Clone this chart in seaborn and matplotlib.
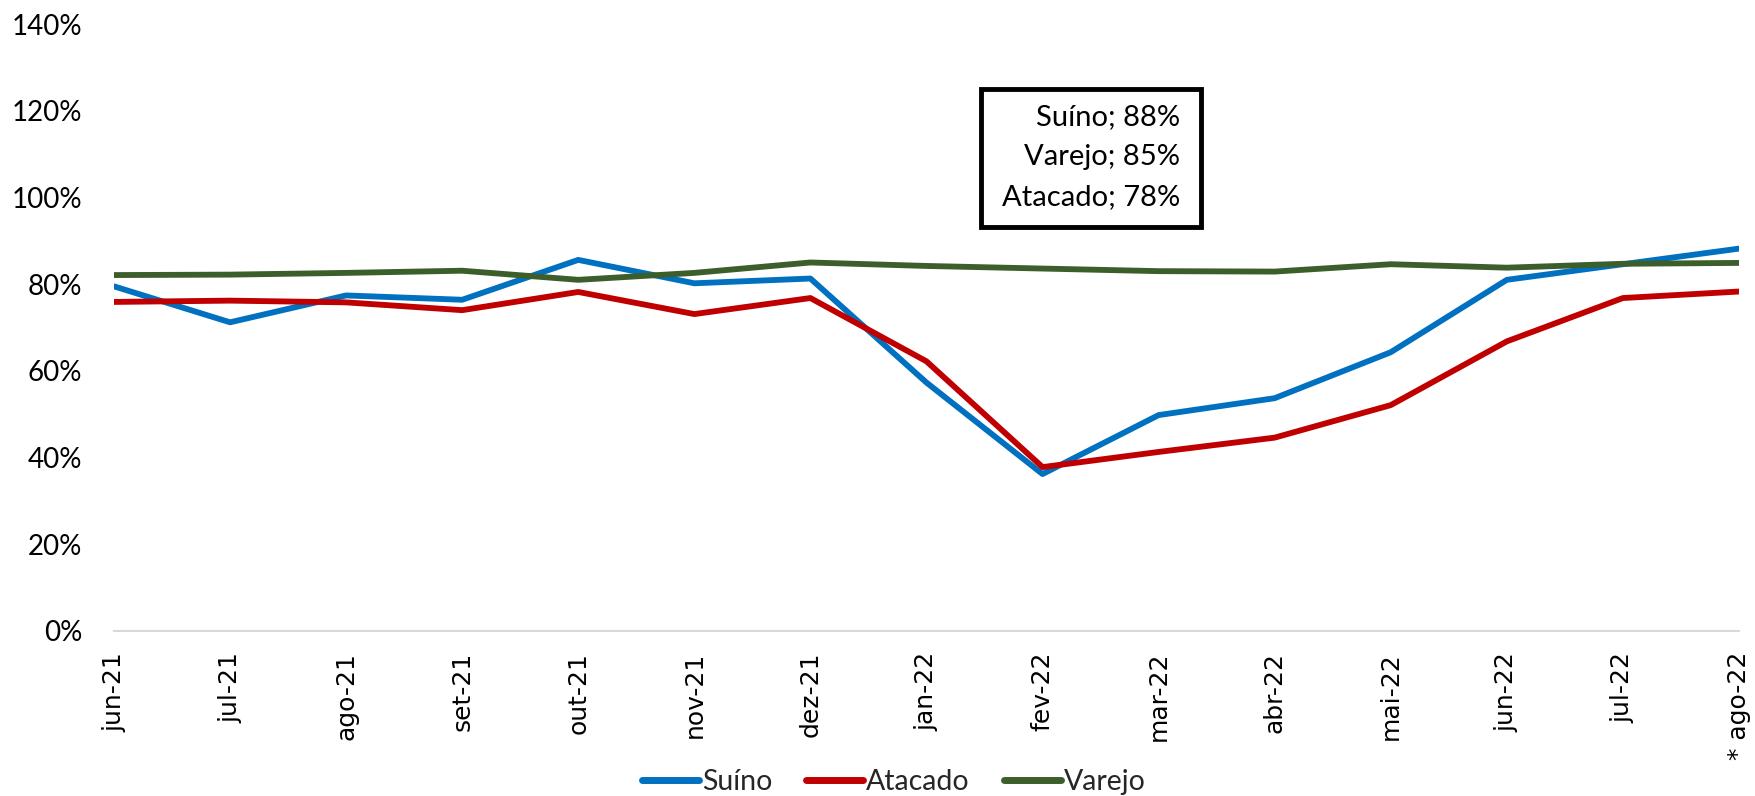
import numpy as np
import pandas as pd
import seaborn as sns
import matplotlib.pyplot as plt
from matplotlib.patches import Rectangle

meses = ['jun-21', 'jul-21', 'ago-21', 'set-21', 'out-21', 'nov-21', 'dez-21',
         'jan-22', 'fev-22', 'mar-22', 'abr-22', 'mai-22', 'jun-22', 'jul-22', '* ago-22']
suino = [0.795, 0.712, 0.774, 0.764, 0.856, 0.802, 0.813,
         0.573, 0.362, 0.498, 0.537, 0.643, 0.810, 0.846, 0.882]
atacado = [0.759, 0.762, 0.758, 0.740, 0.782, 0.731, 0.768,
           0.622, 0.378, 0.413, 0.446, 0.521, 0.668, 0.768, 0.783]
varejo = [0.821, 0.822, 0.826, 0.831, 0.810, 0.826, 0.850,
          0.842, 0.836, 0.830, 0.829, 0.846, 0.838, 0.847, 0.849]

series = ['Suíno', 'Atacado', 'Varejo']
cores = ['#0070C0', '#C00000', '#3B5E2B']

df = pd.DataFrame({
    'x': list(range(len(meses))) * 3,
    'valor': suino + atacado + varejo,
    'serie': [s for s in series for _ in meses],
})

sns.set_theme(style='white')
plt.rcParams['font.family'] = ['Lato', 'DejaVu Sans']

fig = plt.figure(figsize=(17.56, 7.96), dpi=100)
ax = fig.add_axes([0.0649, 0.2073, 0.9254, 0.7625])

sns.lineplot(data=df, x='x', y='valor', hue='serie', palette=cores,
             hue_order=series, linewidth=4.2, ax=ax, legend=False)

ax.set_xlim(0, len(meses) - 1)
ax.set_ylim(0, 1.4)
ax.set_yticks(np.arange(0, 1.41, 0.2))
ax.set_yticklabels([f'{int(round(v * 100))}%' for v in np.arange(0, 1.41, 0.2)],
                   fontsize=20, color='black')
ax.set_xticks(range(len(meses)))
ax.set_xticklabels(meses, rotation=90, fontsize=18, family='DejaVu Sans',
                   color='black', va='top')
ax.tick_params(axis='x', direction='out', length=7, width=1.2, color='#D9D9D9', pad=8)
ax.tick_params(axis='y', length=0, pad=23)
ax.set_xlabel('')
ax.set_ylabel('')
for s in ['top', 'right', 'left']:
    ax.spines[s].set_visible(False)
ax.spines['bottom'].set_color('#D9D9D9')
ax.spines['bottom'].set_linewidth(1.5)

# legenda embaixo
handles = [plt.Line2D([0], [0], color=c, lw=5, solid_capstyle='round') for c in cores]
fig.legend(handles, series, loc='center', bbox_to_anchor=(0.509, 0.018), ncol=3,
           frameon=False, fontsize=20.5, handlelength=2.0, handletextpad=0.1,
           columnspacing=1.2)

# caixa com ultimos valores
fig.patches.append(Rectangle((981 / 1756, 1 - 227 / 796), 220 / 1756, 138 / 796,
                             transform=fig.transFigure, fill=False,
                             edgecolor='black', linewidth=3.5, zorder=5))
textos = [('Suíno', suino[-1]), ('Varejo', varejo[-1]), ('Atacado', atacado[-1])]
for (nome, v), yy in zip(textos, [0.853, 0.803, 0.752]):
    fig.text(1180 / 1756, yy, f'{nome}; {v * 100:.0f}%', ha='right', va='center',
             fontsize=21, color='black')

plt.savefig('out.png', dpi=100)
